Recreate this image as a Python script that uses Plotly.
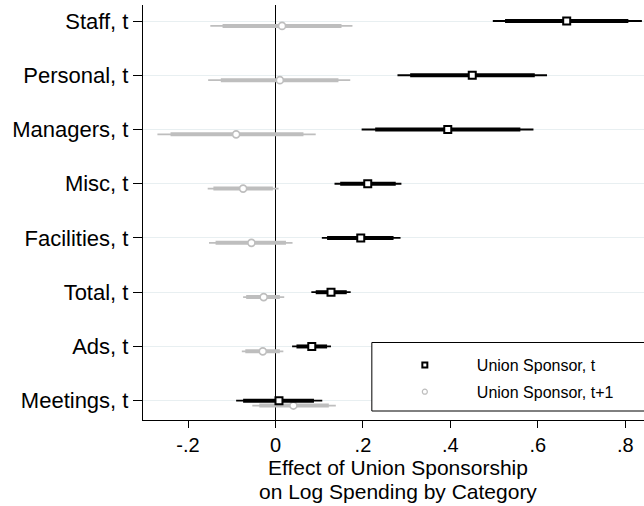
import plotly.graph_objects as go

# Spending categories, listed top to bottom
categories = ["Staff, t", "Personal, t", "Managers, t", "Misc, t",
              "Facilities, t", "Total, t", "Ads, t", "Meetings, t"]

# Union Sponsor, t: point estimate, inner (thick) and outer (thin) intervals
coef_t   = [0.666, 0.450, 0.394, 0.211, 0.195, 0.127, 0.083, 0.008]
lo90_t   = [0.525, 0.308, 0.228, 0.148, 0.118, 0.092, 0.048, -0.074]
hi90_t   = [0.807, 0.593, 0.560, 0.275, 0.270, 0.163, 0.118, 0.088]
lo95_t   = [0.497, 0.279, 0.197, 0.135, 0.106, 0.082, 0.038, -0.090]
hi95_t   = [0.838, 0.621, 0.590, 0.288, 0.286, 0.172, 0.127, 0.107]

# Union Sponsor, t+1
coef_t1  = [0.015, 0.010, -0.090, -0.074, -0.055, -0.027, -0.029, 0.041]
lo90_t1  = [-0.121, -0.125, -0.240, -0.142, -0.137, -0.067, -0.069, -0.037]
hi90_t1  = [0.151, 0.144, 0.064, -0.006, 0.024, 0.010, 0.010, 0.122]
lo95_t1  = [-0.149, -0.154, -0.270, -0.155, -0.152, -0.074, -0.077, -0.053]
hi95_t1  = [0.176, 0.171, 0.092, 0.007, 0.039, 0.020, 0.018, 0.138]

x_tickvals = [-0.2, 0, 0.2, 0.4, 0.6, 0.8]
x_ticktext = ["-.2", "0", ".2", ".4", ".6", ".8"]

series_names = ["Union Sponsor, t", "Union Sponsor, t+1"]

BLACK = "#000000"
GRAY = "#bebebe"
FONT = "Liberation Sans, Arial, Helvetica, sans-serif"

n = len(categories)
ypos = [n - i for i in range(n)]          # Staff at top
offset_t1 = -0.09                          # t+1 row drawn slightly below


def segments(lo, hi, ys):
    xs, yy = [], []
    for a, b, y in zip(lo, hi, ys):
        xs += [a, b, None]
        yy += [y, y, None]
    return xs, yy


fig = go.Figure()

specs = [
    (coef_t, lo90_t, hi90_t, lo95_t, hi95_t, 0.0, BLACK,
     dict(symbol="square", size=7, color="white", line=dict(color=BLACK, width=2))),
    (coef_t1, lo90_t1, hi90_t1, lo95_t1, hi95_t1, offset_t1, GRAY,
     dict(symbol="circle", size=7, color="white", line=dict(color=GRAY, width=1.6))),
]

# draw t+1 first so the t series sits on top
for coef, lo90, hi90, lo95, hi95, off, col, mk in reversed(specs):
    ys = [y + off for y in ypos]
    xs, yy = segments(lo95, hi95, ys)
    fig.add_trace(go.Scatter(x=xs, y=yy, mode="lines", showlegend=False,
                             line=dict(color=col, width=1.8), hoverinfo="skip"))
    xs, yy = segments(lo90, hi90, ys)
    fig.add_trace(go.Scatter(x=xs, y=yy, mode="lines", showlegend=False,
                             line=dict(color=col, width=4), hoverinfo="skip"))
    fig.add_trace(go.Scatter(x=coef, y=ys, mode="markers", showlegend=False,
                             marker=mk))

# legend entries
fig.add_trace(go.Scatter(x=[None], y=[None], mode="markers", name=series_names[0],
                         legendgroup="a",
                         marker=dict(symbol="square", size=5, color="white",
                                     line=dict(color=BLACK, width=2))))
fig.add_trace(go.Scatter(x=[None], y=[None], mode="markers", name=series_names[1],
                         legendgroup="b",
                         marker=dict(symbol="circle", size=5, color="white",
                                     line=dict(color=GRAY, width=1.2))))

# plot area: left 143, right edge of page, top 5, bottom 420
L, T, B = 143.3, 5, 86
W, H = 644, 506
pw, ph = W - L, H - T - B


def px_to_paper_x(px):
    return (px - L) / pw


def py_to_paper_y(py):
    return (H - B - py) / ph


# legend frame (white, covers grid lines)
fig.add_shape(type="rect", xref="paper", yref="paper",
              x0=px_to_paper_x(372), x1=1.2,
              y0=py_to_paper_y(411), y1=py_to_paper_y(342.5),
              line=dict(color=BLACK, width=1), fillcolor="white", layer="above")

# two-line axis title
fig.add_annotation(text="Effect of Union Sponsorship", xref="paper", yref="paper",
                   x=px_to_paper_x(398), y=py_to_paper_y(467),
                   xanchor="center", yanchor="middle", showarrow=False,
                   font=dict(family=FONT, size=21, color=BLACK))
fig.add_annotation(text="on Log Spending by Category", xref="paper", yref="paper",
                   x=px_to_paper_x(398), y=py_to_paper_y(491.5),
                   xanchor="center", yanchor="middle", showarrow=False,
                   font=dict(family=FONT, size=21, color=BLACK))

x_lo = (L - 275.7) / 437
x_hi = (W - 275.7) / 437
y_bottom = 1 - (420 - 400.7) / 54.24
y_top = n + (21 - T) / 54.24

fig.update_layout(
    width=W, height=H,
    margin=dict(l=L, r=0, t=T, b=B),
    paper_bgcolor="white", plot_bgcolor="white",
    font=dict(family=FONT, size=20, color=BLACK),
    legend=dict(x=px_to_paper_x(373), xanchor="left",
                y=py_to_paper_y(348), yanchor="top",
                bgcolor="rgba(0,0,0,0)", borderwidth=0,
                itemwidth=94, traceorder="grouped", tracegroupgap=3,
                font=dict(family=FONT, size=16, color=BLACK)),
    xaxis=dict(range=[x_lo, x_hi], tickvals=x_tickvals, ticktext=x_ticktext,
               showgrid=False, zeroline=True, zerolinecolor=BLACK, zerolinewidth=1.3,
               showline=True, linecolor=BLACK, linewidth=1.3,
               ticks="outside", ticklen=7, tickwidth=1.3, tickcolor=BLACK,
               tickfont=dict(family=FONT, size=20, color=BLACK)),
    yaxis=dict(range=[y_bottom, y_top], tickvals=ypos, ticktext=categories,
               showgrid=True, gridcolor="#e8eff1", gridwidth=1.2,
               zeroline=False, showline=True, linecolor=BLACK, linewidth=1.3,
               ticks="outside", ticklen=9, tickwidth=1.3, tickcolor=BLACK,
               tickfont=dict(family=FONT, size=22, color=BLACK)),
)

fig.write_html("out.html")
